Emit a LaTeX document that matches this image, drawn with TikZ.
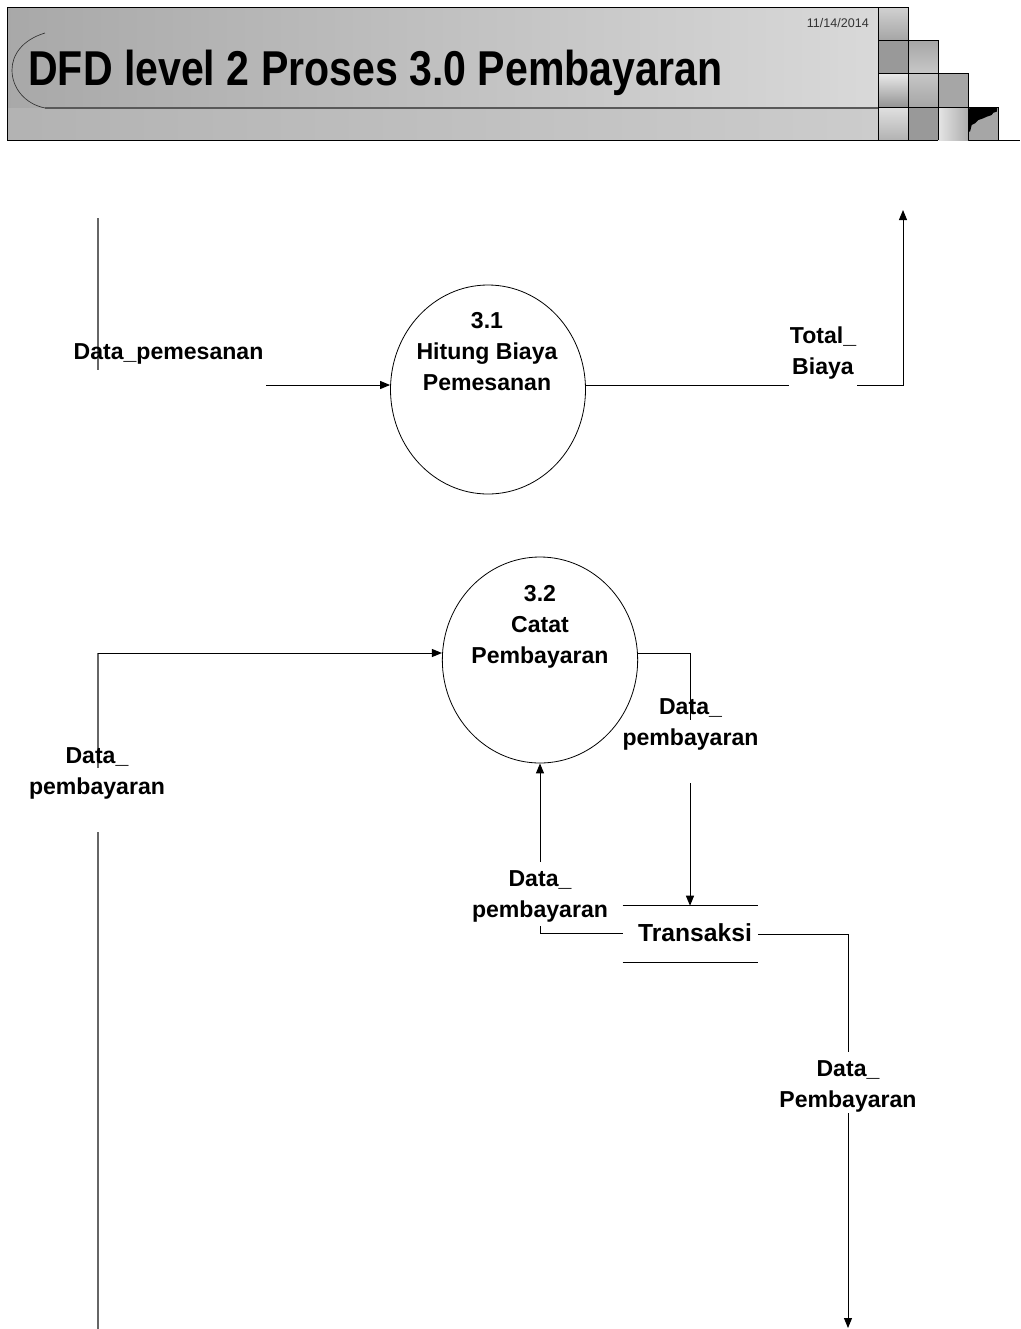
\documentclass[tikz,border=0pt]{standalone}
\usepackage{graphicx}
\usepackage{fontspec}
\setmainfont{Liberation Sans}
\usetikzlibrary{arrows.meta,shapes.geometric}
\newcommand\lblfont{\fontsize{17.3}{23.25}\selectfont\bfseries}
\begin{document}
\begin{tikzpicture}[x=0.75pt,y=-0.75pt,
  flow/.style={line width=0.75pt, black},
  arr/.style={flow,-{Triangle[length=7.5pt,width=6pt]}},
  gflow/.style={line width=0.9pt, black!60},
  proc/.style={ellipse, draw, line width=0.6pt, inner sep=0pt},
  ptext/.style={font=\lblfont, align=center, inner sep=0pt},
  lbl/.style={font=\lblfont, align=center, inner sep=1pt},
  sq/.style={draw=black, line width=0.6pt}]
\useasboundingbox (0,0) rectangle (1021,1329);
% banner
\shade[left color=black!34, right color=black!15] (7,7) rectangle (878,108);
\shade[left color=black!30, right color=black!20] (7,108) rectangle (878,140);
\draw[line width=0.75pt] (908,7) -- (7,7) -- (7,140) -- (1020,140);
\draw[line width=0.5pt, black!80] (45,33) .. controls (22,40) and (12,55) .. (12,70) .. controls (12,88) and (25,104) .. (45,108);
\draw[line width=1.2pt, black!65] (45,108) -- (878,108);
% squares
\shade[top color=black!18, bottom color=black!35] (878,7) rectangle (908,40);
\fill[black!40] (878,40) rectangle (908,73);
\shade[top color=black!35, bottom color=black!22] (908,40) rectangle (938,73);
\shade[top color=black!8, bottom color=black!42] (878,73) rectangle (908,107);
\shade[top color=black!22, bottom color=black!35] (908,73) rectangle (938,107);
\fill[black!35] (938,73) rectangle (968,107);
\shade[top color=black!12, bottom color=black!30] (878,107) rectangle (908,140);
\fill[black!40] (908,107) rectangle (938,140);
\shade[left color=black!10, right color=black!32] (938,107) rectangle (968,140);
\fill[black!35] (968,107) rectangle (998,140);
\fill[black] (968.3,108.3) -- (997.3,107.3) -- (996.7,111.7) -- (993.3,112.7) -- (991.7,115) -- (986.7,116.7) -- (983.3,118.3) -- (978.3,120) -- (975,123.3) -- (971.7,125) -- (970,131.7) -- (968.3,131.7) -- cycle;
\draw[sq] (878,7) rectangle (908,140);
\draw[sq] (878,40) -- (938,40) -- (938,140);
\draw[sq] (878,73) -- (968,73) -- (968,140);
\draw[sq] (878,107) -- (998,107) -- (998,140);
% title and date
\node[anchor=base west, inner sep=0pt] (title) at (28,85) {\resizebox{520.5pt}{\height}{\fontsize{36.7}{40}\selectfont\bfseries DFD level 2 Proses 3.0 Pembayaran}};
\node[anchor=base east, inner sep=0pt, font=\fontsize{9.4}{11}\selectfont, text=black!80] (date) at (869,27) {11/14/2014};
% processes
\node[proc, minimum width=146.25pt, minimum height=156.75pt] (p31) at (488,389.5) {};
\node[ptext] (t31) at (487,352) {3.1\\Hitung Biaya\\Pemesanan};
\node[proc, minimum width=146.5pt, minimum height=154.5pt] (p32) at (540,660) {};
\node[ptext] (t32) at (540,627) {3.2\\Catat\\Pembayaran};
% data store
\node[inner sep=0pt, minimum width=101.25pt, minimum height=42pt] (store) at (690.5,934) {};
\node[font=\fontsize{18.5}{22}\selectfont\bfseries, inner sep=0pt] (storetxt) at (695,933) {Transaksi};
\draw[flow] (store.north west) -- (store.north east);
\draw[flow] (store.south west) -- (store.south east);
% Data_pemesanan
\coordinate (a0) at (98,218); \coordinate (a1) at (98,370);
\draw[gflow] (a0) -- (a1);
\node[lbl] (l1) at (168.5,354) {Data\_pemesanan};
\coordinate (b0) at (266,385);
\draw[arr] (b0) -- (b0 -| p31.west);
% Total_Biaya
\coordinate (c1) at (903,385); \coordinate (c2) at (903,210);
\draw[arr] (c1 -| p31.east) -- (c1) -- (c2);
\node[lbl, fill=white, inner ysep=6pt] (l2) at (823,353) {Total\_\\Biaya};
% left Data_pembayaran
\coordinate (d0) at (98,1329); \coordinate (d1) at (98,832);
\coordinate (d2) at (98,768); \coordinate (d3) at (98,653);
\draw[gflow] (d0) -- (d1);
\draw[gflow] (d2) -- (d3);
\draw[arr] (d3) -- (d3 -| p32.west);
\node[lbl] (l3) at (97,773) {Data\_\\pembayaran};
% 3.2 -> store
\coordinate (e0) at (690,653); \coordinate (e1) at (690,720); \coordinate (e2) at (690,783);
\draw[flow] (e0 -| p32.east) -- (e0) -- (e1);
\draw[arr] (e2) -- (e2 |- store.north);
\node[lbl] (l4) at (690.5,724) {Data\_\\pembayaran};
% store -> 3.2
\coordinate (f0) at (540,933); \coordinate (f1) at (540,926); \coordinate (f2) at (540,862);
\draw[flow] (store.west |- f0) -- (f0) -- (f1);
\draw[arr] (f2) -- (p32.south);
\node[lbl] (l5) at (540,896) {Data\_\\pembayaran};
% store -> out
\coordinate (g0) at (848,934); \coordinate (g1) at (848,1052);
\coordinate (g2) at (848,1113); \coordinate (g3) at (848,1328);
\draw[flow] (store.east |- g0) -- (g0) -- (g1);
\draw[arr] (g2) -- (g3);
\node[lbl] (l6) at (848,1086) {Data\_\\Pembayaran};
\end{tikzpicture}
\end{document}
